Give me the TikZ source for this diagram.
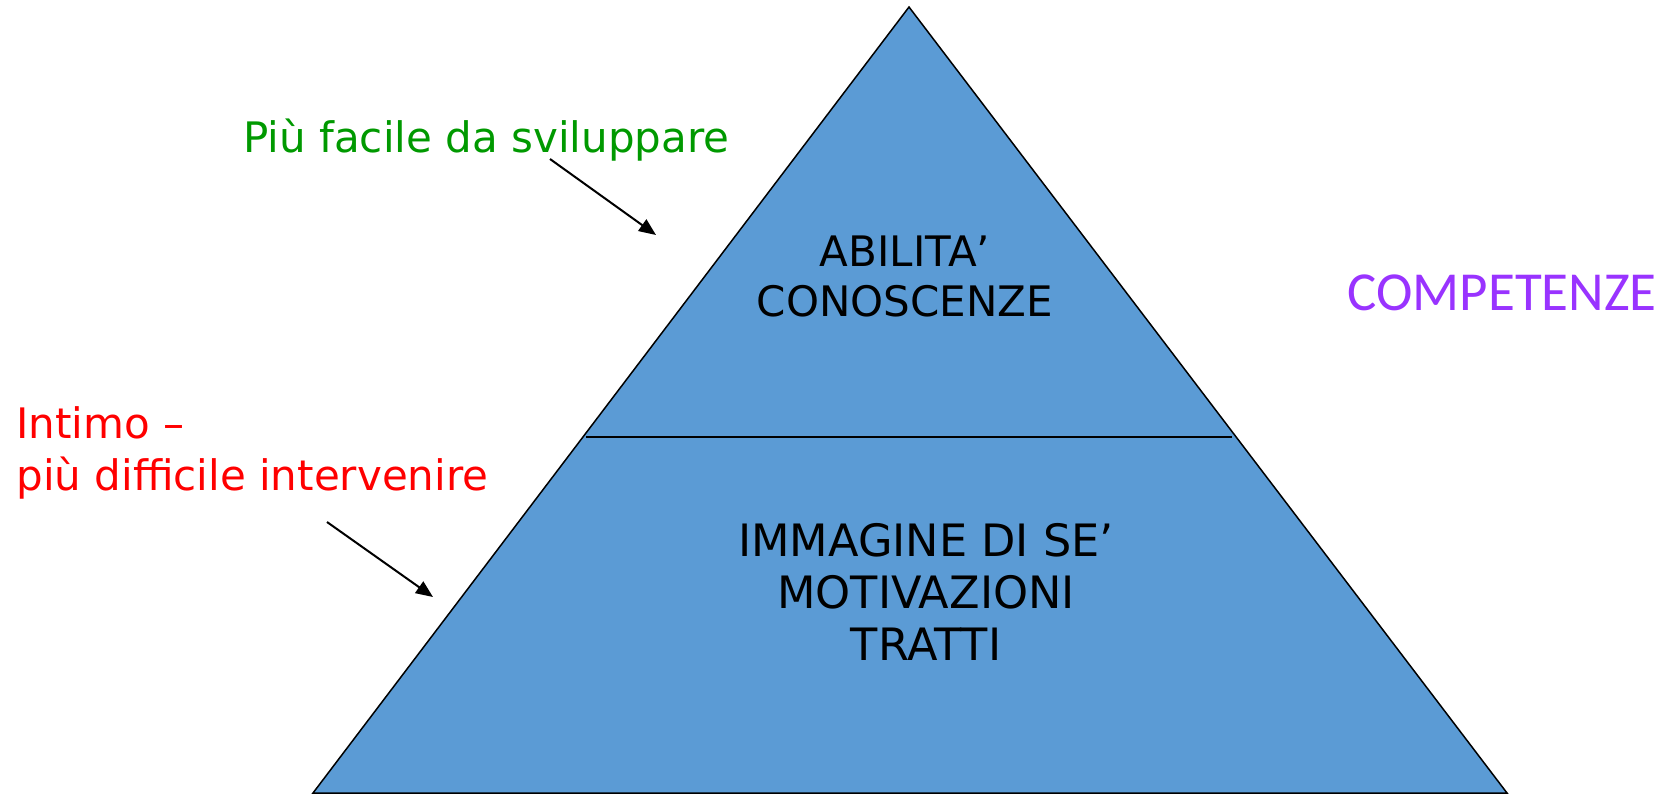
\documentclass[tikz,border=0pt]{standalone}
\usepackage{fontspec}
\setmainfont{DejaVu Sans}
\newfontfamily\competfont{Carlito}
\usetikzlibrary{arrows.meta, positioning}
\definecolor{pyramidblue}{RGB}{91,155,213}
\definecolor{easygreen}{RGB}{0,153,0}
\definecolor{competpurple}{RGB}{153,51,255}

\begin{document}
\begin{tikzpicture}[x=0.5pt, y=-0.5pt,
    level/.style={inner sep=0pt, align=center, font=\fontsize{21}{25}\selectfont},
    note/.style={inner sep=0pt, align=left, font=\fontsize{21}{26}\selectfont},
    pointer/.style={line width=1pt, -{Triangle[length=8.5pt, width=7pt]}},
]
\useasboundingbox (0,0) rectangle (1670,793);

% pyramid
\coordinate (apex) at (909,7);
\coordinate (baseL) at (313,793);
\coordinate (baseR) at (1507,793);
\filldraw[fill=pyramidblue, draw=black, line width=0.75pt]
    (apex) -- (baseL) -- (baseR) -- cycle;
\coordinate (cutL) at (586,437);
\coordinate (cutR) at (1232,437);
\draw[line width=1pt] (cutL) -- (cutR);

\node[level] (top) at (905,276) {ABILITA’\\CONOSCENZE};
\node[level, font=\fontsize{22.3}{26}\selectfont] (bottom) at (926,592) {IMMAGINE DI SE’\\MOTIVAZIONI\\TRATTI};

% side notes
\node[note, text=easygreen, anchor=base west] (easy) at (243,152) {Più facile da sviluppare};
\node[note, text=red, anchor=north west] (hard) at (16,406) {Intimo –\\più difficile intervenire};
\node[inner sep=0pt, text=competpurple, font=\competfont\fontsize{27.5}{30}\selectfont,
    anchor=west] (compet) at (1347,293) {COMPETENZE};

\coordinate (easyStart) at (550,159);
\coordinate (easyTip) at (656,235);
\coordinate (hardStart) at (327,522);
\coordinate (hardTip) at (433,597);
\draw[pointer] (easyStart) -- (easyTip);
\draw[pointer] (hardStart) -- (hardTip);
\end{tikzpicture}
\end{document}
